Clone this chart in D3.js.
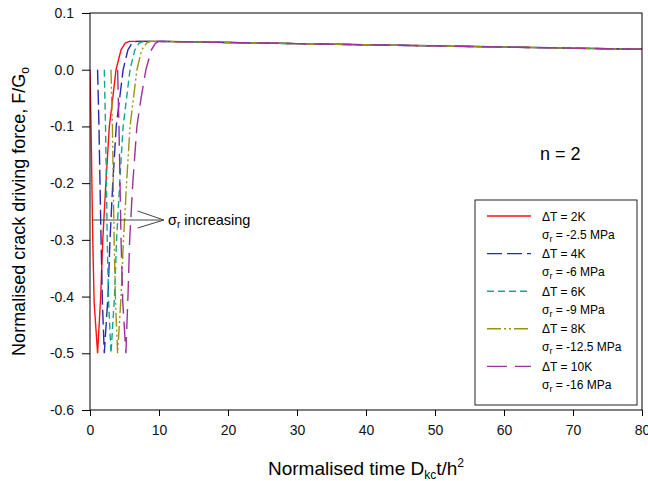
<!DOCTYPE html>
<html lang="en">
<head>
    <meta charset="UTF-8">
    <title>Crack driving force, n = 2</title>
    <style>
        body { margin: 0; background: #fff; }
        svg { display: block; font-family: Arial, "Liberation Sans", sans-serif; }
        .frame { fill: none; stroke: #000; stroke-width: 1px; }
        .axis path { display: none; }
        .axis line { stroke: #000; }
        .axis text { font-size: 14px; fill: #111; }
        .curve { fill: none; stroke-width: 1.4px; }
    </style>
</head>
<body>
    <div id="chart"></div>

    <script src="https://d3js.org/d3.v7.min.js"></script>
    <script>
        // x ticks / y ticks
        const xTicks = [0, 10, 20, 30, 40, 50, 60, 70, 80];
        const yTicks = [0.1, 0.0, -0.1, -0.2, -0.3, -0.4, -0.5, -0.6];
        const yTickLabels = ['0.1', '0.0', '-0.1', '-0.2', '-0.3', '-0.4', '-0.5', '-0.6'];

        // slow decay after the peak, shared by every curve
        const tail = [[10, 0.050], [15, 0.049], [20, 0.048], [30, 0.046], [40, 0.044],
                      [50, 0.042], [60, 0.040], [70, 0.038], [80, 0.036]];

        // [t, F] for the early transient of each curve
        const dT2 = [[0, 0], [0.15, -0.1], [0.4, -0.3], [0.6, -0.41], [1.1, -0.5], [1.55, -0.4],
                     [1.85, -0.3], [2.3, -0.2], [2.8, -0.1], [3.3, -0.05], [3.77, 0], [4.5, 0.035],
                     [5.1, 0.047], [5.7, 0.05]];
        const dT4 = [[1.1, 0], [1.3, -0.1], [1.6, -0.3], [1.8, -0.41], [2.07, -0.5], [2.6, -0.4],
                     [2.9, -0.3], [3.3, -0.2], [3.8, -0.1], [4.3, -0.05], [4.8, 0], [5.5, 0.035],
                     [6.1, 0.047], [6.8, 0.05]];
        const dT6 = [[2.07, 0], [2.25, -0.1], [2.5, -0.3], [2.7, -0.41], [3.04, -0.5], [3.55, -0.4],
                     [3.85, -0.3], [4.3, -0.2], [4.8, -0.1], [5.3, -0.05], [5.8, 0], [6.5, 0.035],
                     [7.1, 0.047], [7.8, 0.05]];
        const dT8 = [[3.04, 0], [3.25, -0.1], [3.5, -0.3], [3.7, -0.41], [4.0, -0.5], [4.5, -0.4],
                     [4.85, -0.3], [5.3, -0.2], [5.8, -0.1], [6.3, -0.05], [6.8, 0], [7.5, 0.035],
                     [8.2, 0.047], [8.8, 0.05]];
        const dT10 = [[4.0, 0], [4.2, -0.1], [4.5, -0.3], [4.75, -0.41], [5.2, -0.5], [5.5, -0.4],
                      [5.75, -0.3], [6.2, -0.2], [6.8, -0.1], [7.4, -0.05], [8.1, 0], [8.9, 0.035],
                      [9.5, 0.047], [10, 0.05]];

        const seriesNames = ['\u0394T = 2K', '\u0394T = 4K', '\u0394T = 6K', '\u0394T = 8K', '\u0394T = 10K'];
        const sigmaValues = ['-2.5 MPa', '-6 MPa', '-9 MPa', '-12.5 MPa', '-16 MPa'];
        const seriesData = [dT2, dT4, dT6, dT8, dT10];
        const colors = ['#ff1010', '#2a2ab0', '#10a88a', '#9a9410', '#a0309c'];
        const dashes = [null, '15,5', '7,4', '14,3,2,3,2,3', '20,8'];

        const width = 648, height = 481;
        const m = { left: 90, right: 6, top: 13, bottom: 71 };

        const svg = d3.select('#chart').append('svg')
            .attr('width', width)
            .attr('height', height);

        const x = d3.scaleLinear().domain([0, 80]).range([m.left, width - m.right]);
        const y = d3.scaleLinear().domain([-0.6, 0.1]).range([height - m.bottom, m.top]);

        // axes
        svg.append('g')
            .attr('class', 'axis')
            .attr('transform', `translate(0,${y(-0.6)})`)
            .call(d3.axisBottom(x).tickValues(xTicks).tickSize(6).tickPadding(9).tickFormat(d3.format('d')));

        svg.append('g')
            .attr('class', 'axis')
            .attr('transform', `translate(${x(0)},0)`)
            .call(d3.axisLeft(y).tickValues(yTicks).tickSize(8).tickPadding(8)
                .tickFormat((d, i) => yTickLabels[i]));

        // curves
        const line = d3.line()
            .x(d => x(d[0]))
            .y(d => y(d[1]));

        svg.append('clipPath').attr('id', 'plot')
            .append('rect')
            .attr('x', x(0)).attr('y', y(0.1))
            .attr('width', x(80) - x(0)).attr('height', y(-0.6) - y(0.1));

        svg.append('g')
            .attr('clip-path', 'url(#plot)')
            .selectAll('path')
            .data(seriesData)
            .enter().append('path')
            .attr('class', 'curve')
            .attr('d', d => line(d.concat(tail)))
            .attr('stroke', (d, i) => colors[i])
            .attr('stroke-dasharray', (d, i) => dashes[i]);

        svg.append('rect')
            .attr('class', 'frame')
            .attr('x', x(0)).attr('y', y(0.1))
            .attr('width', x(80) - x(0)).attr('height', y(-0.6) - y(0.1));

        // annotation arrow
        const ann = svg.append('g').attr('stroke', '#444').attr('stroke-width', 1).attr('fill', 'none');
        const ay = y(-0.265);
        ann.append('line').attr('x1', x(0.3)).attr('x2', x(10.7)).attr('y1', ay).attr('y2', ay);
        ann.append('polyline')
            .attr('points', `${x(6.9)},${ay - 9} ${x(10.7)},${ay} ${x(6.9)},${ay + 8}`);

        const annText = svg.append('text')
            .attr('x', x(11.3)).attr('y', ay + 5)
            .attr('font-size', 14.5);
        annText.append('tspan').text('\u03c3');
        annText.append('tspan').attr('font-size', 10).attr('dy', 3).text('r');
        annText.append('tspan').attr('dy', -3).text(' increasing');

        // n = 2
        svg.append('text')
            .attr('x', 540).attr('y', 160)
            .attr('font-size', 18)
            .text('n = 2');

        // legend
        const lg = svg.append('g');
        lg.append('rect')
            .attr('x', 475).attr('y', 200).attr('width', 162).attr('height', 205)
            .attr('fill', '#fff').attr('stroke', '#222');

        seriesNames.forEach((name, i) => {
            const ly = 216 + i * 37.6;
            lg.append('line')
                .attr('x1', 487).attr('x2', 531).attr('y1', ly).attr('y2', ly)
                .attr('stroke', colors[i]).attr('stroke-width', 1.4)
                .attr('stroke-dasharray', dashes[i]);
            lg.append('text')
                .attr('x', 542).attr('y', ly + 4.5)
                .attr('font-size', 12)
                .text(name);
            const s = lg.append('text')
                .attr('x', 542).attr('y', ly + 22.5)
                .attr('font-size', 12);
            s.append('tspan').text('\u03c3');
            s.append('tspan').attr('font-size', 9).attr('dy', 3).text('r');
            s.append('tspan').attr('dy', -3).text('  = ' + sigmaValues[i]);
        });

        // axis titles
        const xt = svg.append('text')
            .attr('x', (x(0) + x(80)) / 2).attr('y', 475)
            .attr('text-anchor', 'middle')
            .attr('font-size', 19);
        xt.append('tspan').text('Normalised time D');
        xt.append('tspan').attr('font-size', 12).attr('dy', 4).text('kc');
        xt.append('tspan').attr('dy', -4).text('t/h');
        xt.append('tspan').attr('font-size', 12).attr('dy', -8).text('2');

        const yt = svg.append('text')
            .attr('transform', `translate(25,${(y(0.1) + y(-0.6)) / 2}) rotate(-90)`)
            .attr('text-anchor', 'middle')
            .attr('font-size', 18);
        yt.append('tspan').text('Normalised crack driving force, F/G');
        yt.append('tspan').attr('font-size', 12).attr('dy', 4).text('o');
    </script>
</body>
</html>
